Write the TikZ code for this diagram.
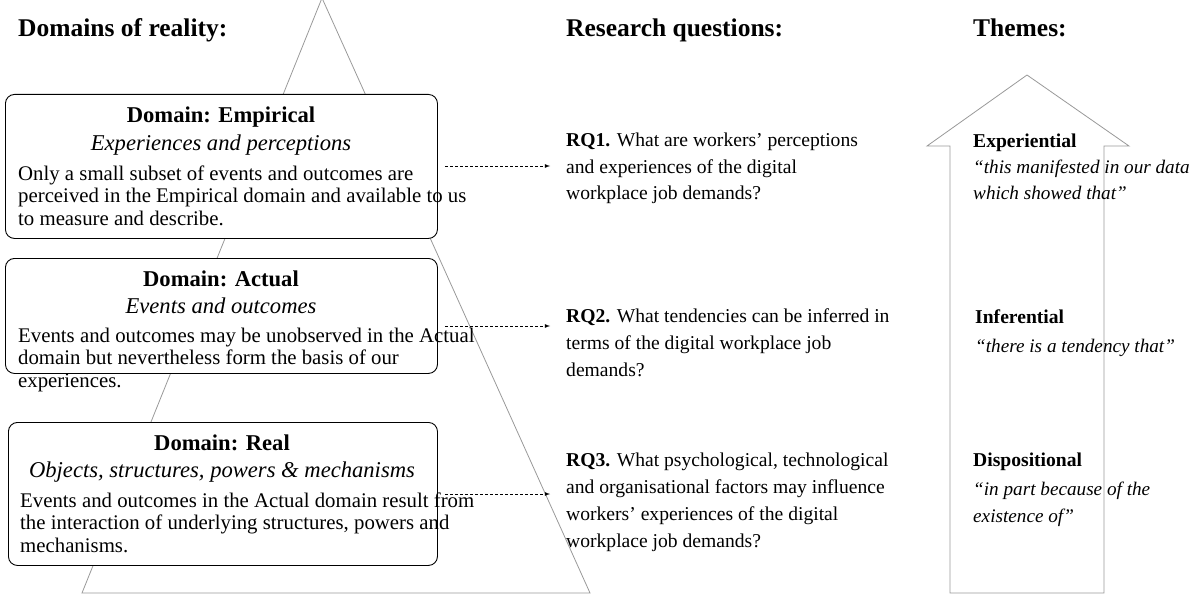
\documentclass[tikz,border=0pt]{standalone}
\usepackage{fontspec}
\setmainfont{Liberation Serif}
\begin{document}
\begin{tikzpicture}[x=1pt,y=-1pt,
  hdr/.style={anchor=base west,inner sep=0pt,font=\fontsize{25.5}{28}\selectfont\bfseries},
  thm/.style={anchor=base west,inner sep=0pt,font=\fontsize{19.6}{22}\selectfont\bfseries},
  txt/.style={anchor=base west,inner sep=0pt,align=left,font=\fontsize{19.6}{26.7}\selectfont},
  quo/.style={anchor=base west,inner sep=0pt,align=left,font=\fontsize{19.2}{26.5}\selectfont\itshape},
  body/.style={anchor=base west,inner sep=0pt,align=left,font=\fontsize{20.8}{22.5}\selectfont},
  ttl/.style={anchor=base,inner sep=0pt,font=\fontsize{22.6}{24}\selectfont\bfseries},
  sub/.style={anchor=base,inner sep=0pt,font=\fontsize{22.6}{24}\selectfont\itshape},
  dbox/.style={draw=black,line width=0.9pt,rounded corners=9pt},
  darr/.style={densely dashed,-latex,line width=0.8pt},
  gline/.style={draw=gray!80,line width=0.8pt}]
\useasboundingbox (0,0) rectangle (1200,599);
% triangle and arrow
\draw[gline] (82,593) -- (322,-2) -- (590,593) -- cycle;
\draw[gline,fill=white] (950,593) -- (950,146) -- (927,146) -- (1027,75) -- (1129,146) -- (1104,146) -- (1104,593) -- cycle;
% boxes
\node[dbox,fill=white,minimum width=432,minimum height=144,anchor=north west] (b1) at (5,94) {};
\node[dbox,fill=white,minimum width=432,minimum height=115,anchor=north west] (b2) at (5,258) {};
\node[dbox,fill=white,minimum width=429,minimum height=143,anchor=north west] (b3) at (8,422) {};
% headers
\node[hdr] (h1) at (18,37) {Domains of reality:};
\node[hdr] (h2) at (566,37) {Research questions:};
\node[hdr] (h3) at (973,37) {Themes:};
% box 1
\node[ttl] (t1) at (221,123) {Domain: Empirical};
\node[sub] (s1) at (221,150) {Experiences and perceptions};
\node[body] (p1) at (18,225) {Only a small subset of events and outcomes are\\perceived in the Empirical domain and available to us\\to measure and describe.};
% box 2
\node[ttl] (t2) at (221,286) {Domain: Actual};
\node[sub] (s2) at (221,313) {Events and outcomes};
\node[body] (p2) at (18,387) {Events and outcomes may be unobserved in the Actual\\domain but nevertheless form the basis of our\\experiences.};
% box 3
\node[ttl] (t3) at (222,450) {Domain: Real};
\node[sub] (s3) at (222,477) {Objects, structures, powers \& mechanisms};
\node[body] (p3) at (20,552) {Events and outcomes in the Actual domain result from\\the interaction of underlying structures, powers and\\mechanisms.};
% RQs
\node[txt] (r1) at (566,200) {\textbf{RQ1.} What are workers’ perceptions\\and experiences of the digital\\workplace job demands?};
\node[txt] (r2) at (566,376) {\textbf{RQ2.} What tendencies can be inferred in\\terms of the digital workplace job\\demands?};
\node[txt] (r3) at (566,547) {\textbf{RQ3.} What psychological, technological\\and organisational factors may influence\\workers’ experiences of the digital\\workplace job demands?};
% themes
\node[thm] (e1) at (973,148) {Experiential};
\node[quo] (e2) at (973,200) {“this manifested in our data\\which showed that”};
\node[thm] (i1) at (975,323) {Inferential};
\node[quo] (i2) at (975,352) {“there is a tendency that”};
\node[thm] (d1) at (973,466) {Dispositional};
\node[quo] (d2) at (973,522) {“in part because of the\\existence of”};
% connectors
\coordinate (a1) at (445,166); \coordinate (c1) at (550,166);
\coordinate (a2) at (445,326); \coordinate (c2) at (550,326);
\coordinate (a3) at (445,494); \coordinate (c3) at (550,494);
\draw[darr] (a1) -- (c1);
\draw[darr] (a2) -- (c2);
\draw[darr] (a3) -- (c3);
\end{tikzpicture}
\end{document}
